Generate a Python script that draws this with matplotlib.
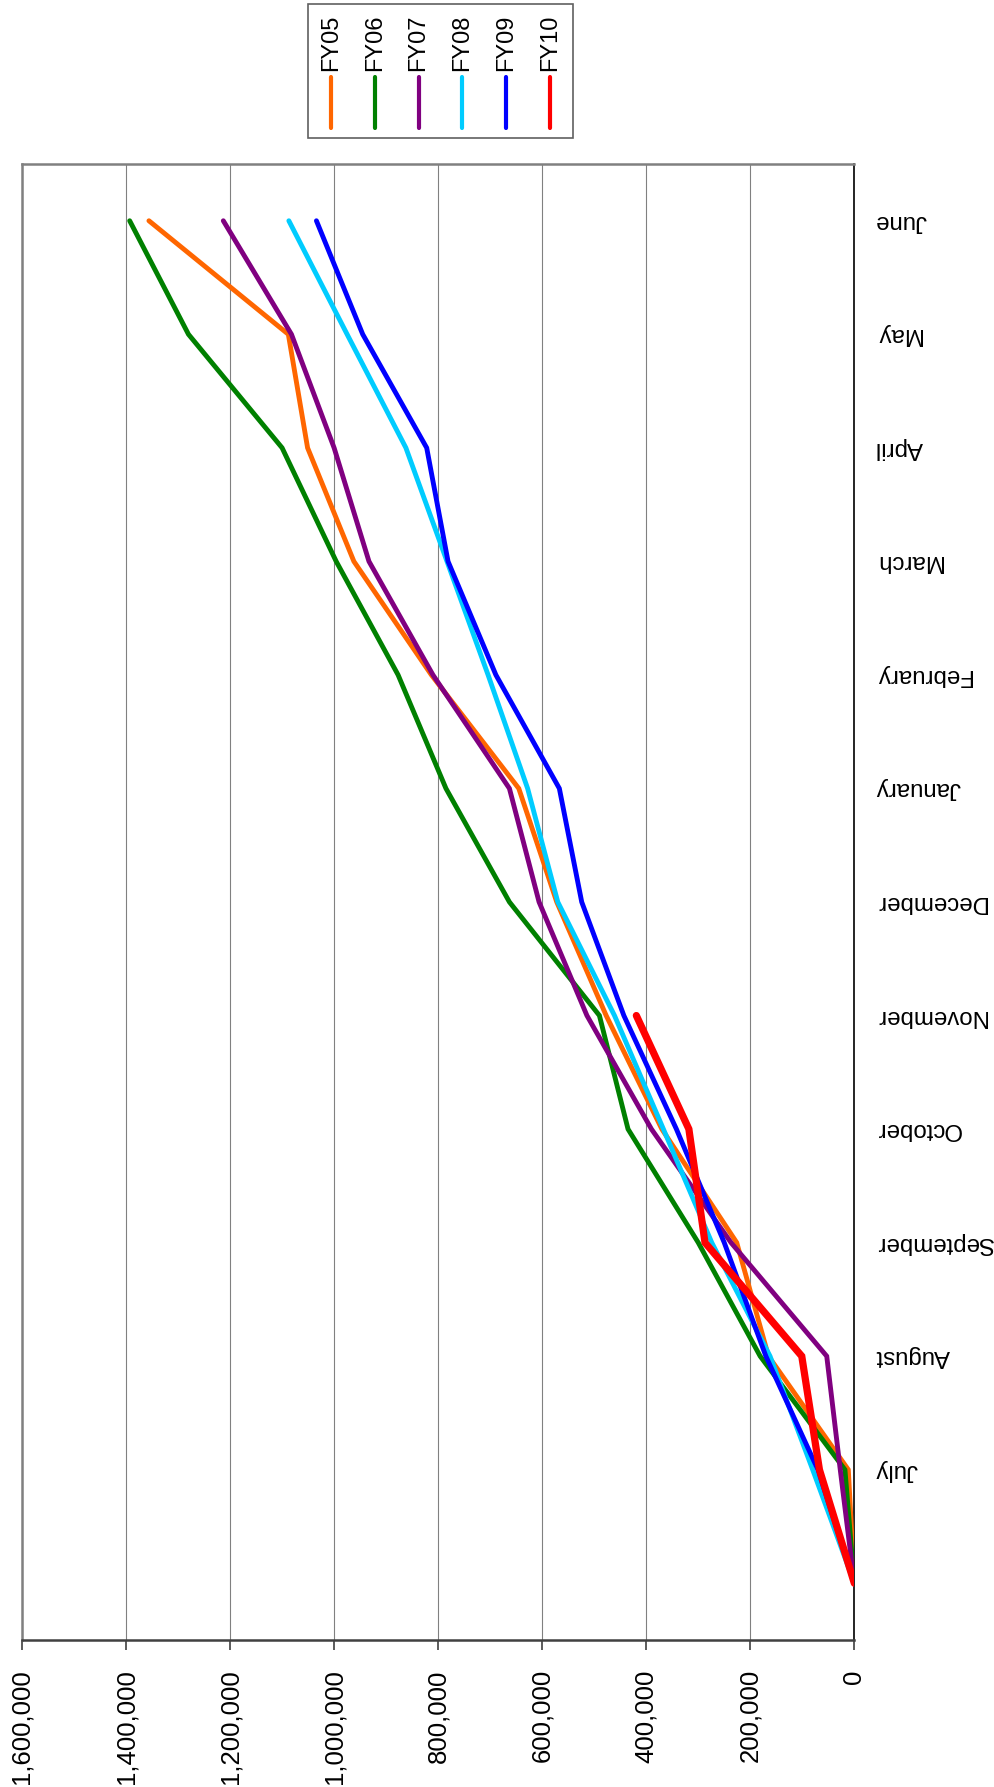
import matplotlib
matplotlib.use("Agg")
import matplotlib.pyplot as plt
from matplotlib.lines import Line2D

plt.rcParams['font.family'] = ['Liberation Sans', 'DejaVu Sans']

months = ['', 'July', 'August', 'September', 'October', 'November', 'December',
          'January', 'February', 'March', 'April', 'May', 'June']
value_ticks = [0, 200000, 400000, 600000, 800000, 1000000, 1200000, 1400000, 1600000]

series_names = ['FY05', 'FY06', 'FY07', 'FY08', 'FY09', 'FY10']
fy05 = [0, 11500, 165000, 226000, 370000, 477000, 572000, 645000, 813000, 962000, 1051000, 1088000, 1356000]
fy06 = [0, 18000, 181000, 300000, 435000, 490000, 663000, 785000, 877000, 996000, 1100000, 1280000, 1393000]
fy07 = [0, 27000, 53000, 237000, 390000, 514000, 606000, 663000, 810000, 933000, 1000000, 1082000, 1213000]
fy08 = [0, 80000, 162000, 274000, 367000, 461000, 570000, 628000, 704000, 783000, 862000, 975000, 1087000]
fy09 = [0, 70000, 170000, 250000, 342000, 443000, 524000, 567000, 689000, 781000, 822000, 945000, 1034000]
fy10 = [0, 67000, 101000, 287000, 318000, 419000]

colors = ['#FF6600', '#008000', '#800080', '#00CCFF', '#0000FF', '#FF0000']
widths = [3.5, 3.5, 3.5, 3.5, 3.5, 5.2]

W, H = 995, 1787
fig = plt.figure(figsize=(W / 100, H / 100), dpi=100)
# plot area in pixels: x 22..854, y 164..1640 (from top)
ax = fig.add_axes([22 / W, (H - 1640) / H, (854.3 - 22) / W, (1640 - 164) / H])

# chart is drawn turned on its side: values run right-to-left, months bottom-to-top
for vals, c, lw in zip([fy05, fy06, fy07, fy08, fy09, fy10], colors, widths):
    ax.plot(vals, range(len(vals)), color=c, lw=lw, solid_capstyle='round',
            solid_joinstyle='miter', zorder=3)

ax.set_xlim(1600000, 0)
ax.set_ylim(-0.5, len(months) - 0.5)

ax.set_xticks(value_ticks)
ax.set_xticklabels(['{:,}'.format(v) for v in value_ticks], rotation=90,
                   va='top', ha='center', fontsize=18.5)
ax.tick_params(axis='x', direction='out', length=7, width=1.2, color='#404040', pad=14)
ax.grid(axis='x', color='#808080', lw=0.8, zorder=0)

ax.yaxis.tick_right()
ax.set_yticks(range(len(months)))
ax.set_yticklabels(months, rotation=180, ha='left', va='center', fontsize=17.3)
ax.tick_params(axis='y', length=0, pad=15)

ax.spines['right'].set_color('black')
ax.spines['right'].set_linewidth(1.2)
ax.spines['bottom'].set_color('#404040')
ax.spines['bottom'].set_linewidth(1.8)
for s in ['top', 'left']:
    ax.spines[s].set_color('#808080')
    ax.spines[s].set_linewidth(1.8)

# legend, turned like the rest of the chart
fig.add_artist(plt.Rectangle((308 / W, 1 - 138 / H), (573 - 308) / W, (138 - 4) / H,
                             transform=fig.transFigure, fill=False, ec='#606060', lw=1.2))
for i, (name, c) in enumerate(zip(series_names, colors)):
    x = (331 + i * 43.8) / W
    fig.add_artist(Line2D([x, x], [1 - 77 / H, 1 - 128 / H], transform=fig.transFigure,
                          color=c, lw=3, solid_capstyle='round'))
    fig.text(x, 1 - 71 / H, name, rotation=90, ha='center', va='bottom', fontsize=17)

fig.savefig('out.png', dpi=100)
